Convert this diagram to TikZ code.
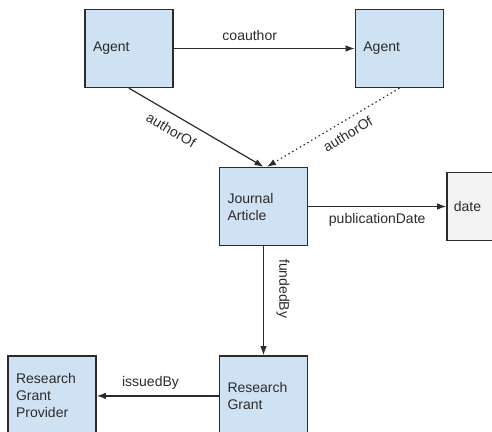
\documentclass[tikz,border=0pt]{standalone}
\usepackage{fontspec}
\setmainfont{Liberation Sans}
\usetikzlibrary{arrows.meta,positioning}

\definecolor{boxblue}{HTML}{CFE2F3}
\definecolor{boxgray}{HTML}{F3F3F3}
\definecolor{edge}{HTML}{2B2B2B}

\begin{document}
\begin{tikzpicture}[x=1pt, y=-1pt, >={Latex[length=9pt,width=6.5pt]}, node distance=1.0cm,
    font=\fontsize{14}{17}\selectfont, text=edge,
    entity/.style={draw=edge, line width=1.4pt, rectangle, fill=boxblue, minimum width=88pt, minimum height=78pt, text width=72pt, inner xsep=8pt, align=left},
    literal/.style={draw=edge, line width=1.4pt, rectangle, fill=boxgray, minimum width=70pt, minimum height=68pt, text width=56pt, inner xsep=7pt, align=left},
    rel/.style={->, draw=edge, line width=1.2pt}]
    \useasboundingbox (0,0) rectangle (492,431);
    \clip (0,0) rectangle (492,431);

    \node [entity] (agent) at (129,48.5) {Agent};
    \node [entity, right=181pt of agent] (coagent) {Agent};
    \node [entity] (article) at (263.5,206.5) {Journal\\Article};
    \node [literal, right=138pt of article] (date) {date};
    \node [entity, minimum height=80pt, below=109pt of article] (grant) {Research\\Grant};
    \node [entity, minimum height=80pt, left=122pt of grant] (provider) {Research\\Grant\\Provider};

    \draw [rel] (agent) -- node [pos=0.42, above=4pt] {coauthor} (coagent);
    \draw [rel] (agent.south) -- node [pos=0.37, sloped, below=6pt] {authorOf} (article.north);
    \draw [rel, dash pattern=on 1.4pt off 3pt] (coagent.south) -- node [pos=0.44, sloped, below=4pt] {authorOf} (article.85);
    \draw [rel] (article) -- node [pos=0.5, below=3pt] {publicationDate} (date);
    \draw [rel] (article) -- node [pos=0.39, sloped, above=9pt] {fundedBy} (grant);
    \draw [rel] (grant) -- node [pos=0.56, above=3pt] {issuedBy} (provider);
\end{tikzpicture}
\end{document}
